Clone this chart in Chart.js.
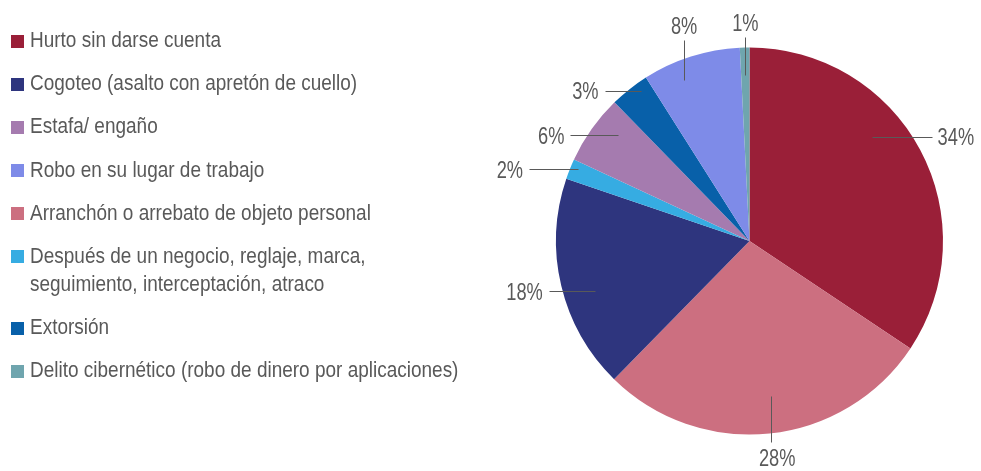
<!DOCTYPE html>
<html>
<head>
<meta charset="utf-8">
<script src="https://cdn.jsdelivr.net/npm/chart.js@4/dist/chart.umd.min.js"></script>
<style>
  html, body { margin: 0; padding: 0; background: #fff; }
  #wrap { position: relative; width: 981px; height: 471px; overflow: hidden; }
  #myChart { position: absolute; left: 0; top: 0; }
  #legend { position: absolute; left: 11px; top: 26px; font-family: "Liberation Sans", Arial, sans-serif;
            font-size: 21.5px; line-height: 28px; color: #595959; }
  .item { position: relative; height: 28px; margin-bottom: 15.2px; }
  .item.two { height: 56px; }
  .box { position: absolute; left: 0; top: 8.5px; width: 13px; height: 13px; }
  .txt { position: absolute; left: 19px; top: 0; white-space: nowrap;
         transform: scaleX(0.883); transform-origin: 0 0; }
</style>
</head>
<body>
<div id="wrap">
  <canvas id="myChart" width="981" height="471"></canvas>
  <div id="legend"></div>
</div>
<script>
// slices, clockwise from the top
let categories = [
    'Hurto sin darse cuenta',
    'Arranchón o arrebato de objeto personal',
    'Cogoteo (asalto con apretón de cuello)',
    'Después de un negocio, reglaje, marca, seguimiento, interceptación, atraco',
    'Estafa/ engaño',
    'Extorsión',
    'Robo en su lugar de trabajo',
    'Delito cibernético (robo de dinero por aplicaciones)'
];
let values = [34.4, 28.0, 17.9, 1.7, 5.8, 3.3, 8.2, 0.8];
let colors = ['#9a1f38', '#cc6f80', '#2e357e', '#36ace2', '#a57baf', '#0860a9', '#7e8be8', '#6fa5ae'];

// legend order (index into categories) and how long lines are broken
let legendOrder = [0, 2, 4, 6, 1, 3, 5, 7];
let legendText = {
    3: ['Después de un negocio, reglaje, marca,', 'seguimiento, interceptación, atraco']
};

// where each label sits: position along the slice, radius fraction, leader direction and length
let labelLayout = [
    { f: 0.40, r: 0.83, dir: 'right', len: 60 },
    { f: 0.48, r: 0.81, dir: 'down', len: 46 },
    { f: 0.43, r: 0.84, dir: 'left', len: 46 },
    { f: 0.63, r: 0.96, dir: 'left', len: 49 },
    { f: 0.67, r: 0.87, dir: 'left', len: 48 },
    { f: 0.70, r: 0.96, dir: 'left', len: 36 },
    { f: 0.35, r: 0.90, dir: 'up', len: 40 },
    { f: 0.50, r: 0.86, dir: 'up', len: 38 }
];

// html legend
let legend = document.getElementById('legend');
legendOrder.forEach(i => {
    let lines = legendText[i] || [categories[i]];
    let row = document.createElement('div');
    row.className = 'item' + (lines.length > 1 ? ' two' : '');
    let box = document.createElement('div');
    box.className = 'box';
    box.style.background = colors[i];
    let txt = document.createElement('div');
    txt.className = 'txt';
    txt.innerHTML = lines.join('<br>');
    row.appendChild(box);
    row.appendChild(txt);
    legend.appendChild(row);
});

const labelPlugin = {
    id: 'outLabels',
    afterDatasetsDraw(chart) {
        const ctx = chart.ctx;
        const meta = chart.getDatasetMeta(0);
        const sx = 0.76;
        ctx.save();
        ctx.font = '24px "Liberation Sans", Arial, sans-serif';
        ctx.fillStyle = '#595959';
        ctx.strokeStyle = '#595959';
        ctx.lineWidth = 1;
        meta.data.forEach((arc, i) => {
            const lay = labelLayout[i];
            const a = arc.startAngle + lay.f * (arc.endAngle - arc.startAngle);
            const x0 = arc.x + Math.cos(a) * arc.outerRadius * lay.r;
            const y0 = arc.y + Math.sin(a) * arc.outerRadius * lay.r;
            let x1 = x0, y1 = y0;
            if (lay.dir === 'right') x1 += lay.len;
            if (lay.dir === 'left') x1 -= lay.len;
            if (lay.dir === 'up') y1 -= lay.len;
            if (lay.dir === 'down') y1 += lay.len;
            ctx.beginPath();
            ctx.moveTo(Math.round(x0) + 0.5, Math.round(y0) + 0.5);
            ctx.lineTo(Math.round(x1) + 0.5, Math.round(y1) + 0.5);
            ctx.stroke();
            const txt = Math.round(values[i]) + '%';
            let tx, ty;
            ctx.textBaseline = 'alphabetic';
            if (lay.dir === 'right') {
                ctx.textAlign = 'left'; tx = x1 + 6; ty = y1 + 8.6;
            } else if (lay.dir === 'left') {
                ctx.textAlign = 'right'; tx = x1 - 6; ty = y1 + 8.6;
            } else if (lay.dir === 'up') {
                ctx.textAlign = 'center'; tx = x1; ty = y1 - 6;
            } else {
                ctx.textAlign = 'center'; tx = x1 + 6; ty = y1 + 24;
            }
            ctx.save();
            ctx.translate(tx, ty);
            ctx.scale(sx, 1);
            ctx.fillText(txt, 0, 0);
            ctx.restore();
        });
        ctx.restore();
    }
};

new Chart(document.getElementById('myChart'), {
    type: 'pie',
    data: {
        labels: categories,
        datasets: [{
            data: values,
            backgroundColor: colors,
            borderWidth: 0,
            hoverOffset: 0
        }]
    },
    options: {
        responsive: false,
        animation: false,
        layout: { padding: { left: 556, right: 38, top: 47.5, bottom: 36.5 } },
        plugins: {
            legend: { display: false },
            tooltip: { enabled: false }
        }
    },
    plugins: [labelPlugin]
});
</script>
</body>
</html>
